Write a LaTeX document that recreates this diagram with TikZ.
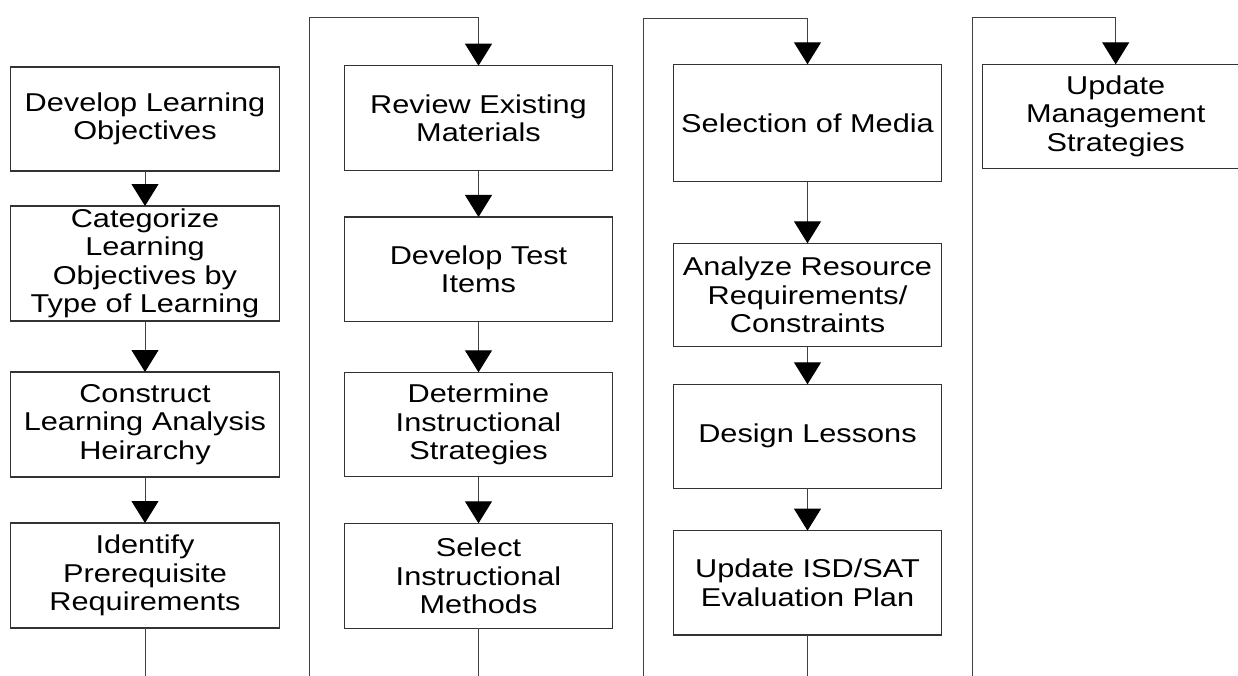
\documentclass[tikz,border=0pt]{standalone}
\usepackage{fontspec}
\setmainfont{Liberation Sans}[FakeStretch=1.19]
\usetikzlibrary{arrows.meta}
\begin{document}
\begin{tikzpicture}[x=1pt,y=-1pt,
  stepbox/.style={draw=black!80, line width=1.2pt, inner sep=0pt, outer sep=0pt,
    align=center, text=black, font=\fontsize{25.8}{28.5}\selectfont},
  conn/.style={draw=black!75, line width=1pt},
  arr/.style={conn, -{Triangle[width=27pt,length=22pt,color=black,fill=black]}}]
\clip (0,0) rectangle (1238,675);
\fill[white] (0,0) rectangle (1238,675);
% column 1
\node[stepbox, minimum width=268.6pt, minimum height=104pt] (a1) at (145,119) {Develop Learning\\Objectives};
\node[stepbox, minimum width=268.6pt, minimum height=115pt] (a2) at (145,263.5) {Categorize\\Learning\\Objectives by\\Type of Learning};
\node[stepbox, minimum width=268.6pt, minimum height=105pt] (a3) at (145,424.5) {Construct\\Learning Analysis\\Heirarchy};
\node[stepbox, minimum width=268.6pt, minimum height=105pt] (a4) at (145,575.5) {Identify\\Prerequisite\\Requirements};
% column 2
\node[stepbox, minimum width=268.4pt, minimum height=105pt] (b1) at (478.5,118.2) {Review Existing\\Materials};
\node[stepbox, minimum width=268.4pt, minimum height=104.7pt] (b2) at (478.5,269.3) {Develop Test\\Items};
\node[stepbox, minimum width=268.4pt, minimum height=104.4pt] (b3) at (478.5,424.5) {Determine\\Instructional\\Strategies};
\node[stepbox, minimum width=268.4pt, minimum height=105pt] (b4) at (478.5,575.8) {Select\\Instructional\\Methods};
% column 3
\node[stepbox, minimum width=268.4pt, minimum height=117.4pt] (c1) at (807.5,123) {Selection of Media};
\node[stepbox, minimum width=268.4pt, minimum height=103.4pt] (c2) at (807.5,295) {Analyze Resource\\Requirements/\\Constraints};
\node[stepbox, minimum width=268.4pt, minimum height=104pt] (c3) at (807.5,436.3) {Design Lessons};
\node[stepbox, minimum width=268.4pt, minimum height=104.3pt] (c4) at (807.5,582.8) {Update ISD/SAT\\Evaluation Plan};
% column 4
\node[stepbox, minimum width=267pt, minimum height=104pt] (d1) at (1115.7,116.3) {Update\\Management\\Strategies};
% arrows within columns
\draw[arr] (a1) -- (a2);
\draw[arr] (a2) -- (a3);
\draw[arr] (a3) -- (a4);
\draw[arr] (b1) -- (b2);
\draw[arr] (b2) -- (b3);
\draw[arr] (b3) -- (b4);
\draw[arr] (c1) -- (c2);
\draw[arr] (c2) -- (c3);
\draw[arr] (c3) -- (c4);
% outgoing lines at bottom
\coordinate (ae) at (145,676);
\coordinate (be) at (478.5,676);
\coordinate (ce) at (807.5,676);
\draw[conn] (a4.south) -- (ae);
\draw[conn] (b4.south) -- (be);
\draw[conn] (c4.south) -- (ce);
% incoming loops
\coordinate (lb) at (309,676);
\coordinate (lbt) at (309,17.3);
\coordinate (lc) at (643.3,676);
\coordinate (lct) at (643.3,18.3);
\coordinate (ld) at (972.3,676);
\coordinate (ldt) at (972.3,17.3);
\draw[arr] (lb) -- (lbt) -| (b1.north);
\draw[arr] (lc) -- (lct) -| (c1.north);
\draw[arr] (ld) -- (ldt) -| (d1.north);
\end{tikzpicture}
\end{document}
